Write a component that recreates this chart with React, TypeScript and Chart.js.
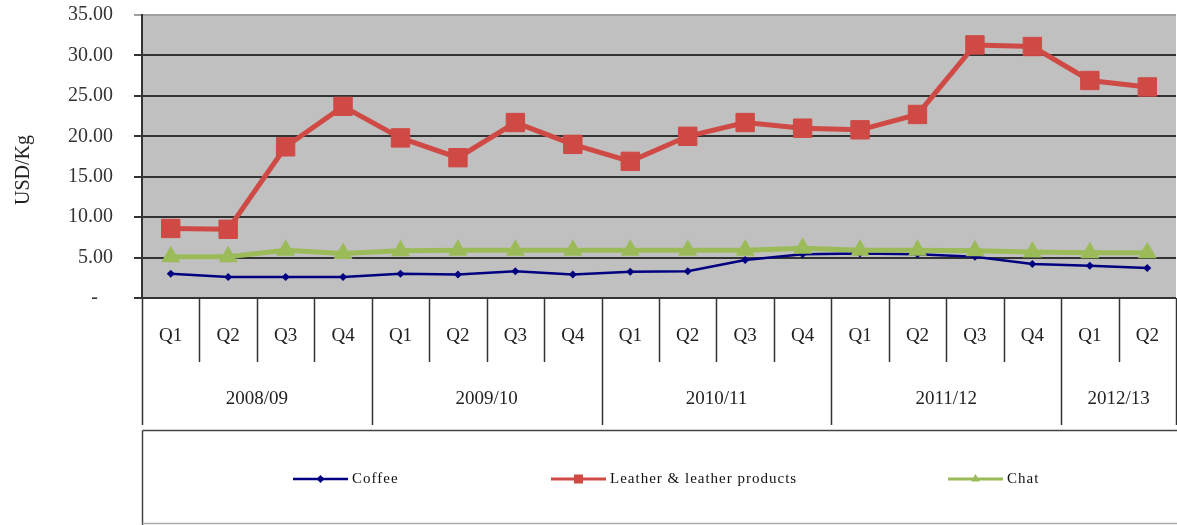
import React, { useEffect, useRef } from 'react';
import { Chart, registerables } from 'chart.js';

Chart.register(...registerables);

const quarterLabels = ['Q1', 'Q2', 'Q3', 'Q4', 'Q1', 'Q2', 'Q3', 'Q4', 'Q1', 'Q2', 'Q3', 'Q4', 'Q1', 'Q2', 'Q3', 'Q4', 'Q1', 'Q2'];
const fiscalYears = ['2008/09', '2009/10', '2010/11', '2011/12', '2012/13'];
const quartersPerYear = [4, 4, 4, 4, 2];
const coffee = [3.0, 2.6, 2.6, 2.6, 3.0, 2.9, 3.3, 2.9, 3.25, 3.3, 4.7, 5.4, 5.5, 5.4, 5.1, 4.2, 4.0, 3.7];
const leather = [8.6, 8.5, 18.7, 23.7, 19.8, 17.35, 21.7, 19.0, 16.9, 20.0, 21.7, 21.0, 20.8, 22.7, 31.3, 31.1, 26.9, 26.1];
const chat = [5.1, 5.1, 5.9, 5.5, 5.85, 5.9, 5.9, 5.9, 5.9, 5.9, 5.9, 6.15, 5.9, 5.9, 5.85, 5.7, 5.6, 5.6];
const yTickValues = [0, 5, 10, 15, 20, 25, 30, 35];
const seriesNames = ['Coffee', 'Leather & leather products', 'Chat'];
const yAxisTitle = 'USD/Kg';

const SERIF = '"Liberation Serif", "Times New Roman", serif';

const COLORS = ['#000080', '#cf4a45', '#9bbb59'];

function drawMarker(ctx: CanvasRenderingContext2D, kind: number, x: number, y: number) {
  ctx.beginPath();
  if (kind === 0) {
    const r = 4;
    ctx.moveTo(x, y - r);
    ctx.lineTo(x + r, y);
    ctx.lineTo(x, y + r);
    ctx.lineTo(x - r, y);
    ctx.closePath();
  } else if (kind === 1) {
    ctx.rect(x - 4.5, y - 4.5, 9, 9);
  } else {
    const r = 5;
    ctx.moveTo(x, y - r);
    ctx.lineTo(x + r * 0.866, y + r * 0.5);
    ctx.lineTo(x - r * 0.866, y + r * 0.5);
    ctx.closePath();
  }
  ctx.fill();
}

const tablePlugin = {
  id: 'tablePlugin',
  beforeDraw(chart: any) {
    const { ctx, chartArea: a } = chart;
    ctx.save();
    ctx.fillStyle = '#c0c0c0';
    ctx.fillRect(a.left, a.top, a.right - a.left, a.bottom - a.top);
    ctx.restore();
  },
  afterDraw(chart: any) {
    const { ctx, chartArea: a, scales } = chart;
    const xs = scales.x;
    const n = quarterLabels.length;
    const w = (a.right - a.left) / n;
    const qBottom = a.bottom + 64;
    const yBottom = a.bottom + 127;
    const bounds = [0];
    let acc = 0;
    quartersPerYear.forEach((c) => {
      acc += c;
      bounds.push(acc);
    });
    ctx.save();
    ctx.strokeStyle = '#333';
    ctx.lineWidth = 1.5;
    for (let i = 0; i <= n; i++) {
      const px = Math.round(a.left + i * w) + 0.5;
      const isYear = bounds.includes(i);
      ctx.beginPath();
      ctx.moveTo(px, a.bottom);
      ctx.lineTo(px, isYear ? yBottom : qBottom);
      ctx.stroke();
    }
    ctx.fillStyle = '#222';
    ctx.font = `19px ${SERIF}`;
    ctx.textAlign = 'center';
    ctx.textBaseline = 'middle';
    quarterLabels.forEach((q, i) => ctx.fillText(q, xs.getPixelForValue(i), a.bottom + 38));
    fiscalYears.forEach((fy, k) => {
      const c = (bounds[k] + bounds[k + 1]) / 2;
      ctx.fillText(fy, a.left + c * w, a.bottom + 101);
    });

    // y axis title
    ctx.save();
    ctx.translate(24, 170);
    ctx.rotate(-Math.PI / 2);
    ctx.font = `20px ${SERIF}`;
    ctx.fillText(yAxisTitle, 0, 0);
    ctx.restore();

    // legend box
    const top = 430.5;
    const bottom = 523.5;
    const left = Math.round(a.left) + 0.5;
    ctx.strokeStyle = '#444';
    ctx.lineWidth = 1.5;
    ctx.beginPath();
    ctx.moveTo(left, top);
    ctx.lineTo(chart.width, top);
    ctx.moveTo(left, top);
    ctx.lineTo(left, 525);
    ctx.stroke();
    ctx.strokeStyle = '#aaa';
    ctx.beginPath();
    ctx.moveTo(left, bottom);
    ctx.lineTo(chart.width, bottom);
    ctx.stroke();

    const starts = [293, 551, 948];
    const ly = 479;
    ctx.font = `15px ${SERIF}`;
    (ctx as any).letterSpacing = '1px';
    ctx.textAlign = 'left';
    seriesNames.forEach((name, i) => {
      const sx = starts[i];
      ctx.strokeStyle = COLORS[i];
      ctx.fillStyle = COLORS[i];
      ctx.lineWidth = i === 0 ? 2.5 : 3;
      ctx.beginPath();
      ctx.moveTo(sx, ly);
      ctx.lineTo(sx + 55, ly);
      ctx.stroke();
      drawMarker(ctx, i, sx + 27.5, ly);
      ctx.fillStyle = '#111';
      ctx.fillText(name, sx + 59, ly);
    });
    (ctx as any).letterSpacing = '0px';
    ctx.restore();
  },
};

export default function App() {
  const ref = useRef<HTMLCanvasElement | null>(null);
  useEffect(() => {
    if (!ref.current) return;
    const chart = new Chart(ref.current, {
      type: 'line',
      data: {
        labels: quarterLabels,
        datasets: [
          {
            label: seriesNames[0],
            data: coffee,
            borderColor: COLORS[0],
            backgroundColor: COLORS[0],
            borderWidth: 2.5,
            pointStyle: 'rectRot',
            pointRadius: 4,
            pointBorderWidth: 0,
            tension: 0,
            order: 3,
          },
          {
            label: seriesNames[1],
            data: leather,
            borderColor: COLORS[1],
            backgroundColor: COLORS[1],
            borderWidth: 5,
            pointStyle: 'rect',
            pointRadius: 13,
            pointBorderWidth: 1,
            tension: 0,
            order: 2,
          },
          {
            label: seriesNames[2],
            data: chat,
            borderColor: COLORS[2],
            backgroundColor: COLORS[2],
            borderWidth: 5,
            pointStyle: 'triangle',
            pointRadius: 11,
            pointBorderWidth: 0,
            tension: 0,
            order: 1,
          },
        ],
      },
      options: {
        responsive: false,
        animation: false,
        layout: { padding: { top: 15, right: 6, left: 0, bottom: 0 } },
        plugins: { legend: { display: false }, tooltip: { enabled: false }, title: { display: false } },
        scales: {
          x: {
            type: 'category',
            offset: true,
            grid: { display: false },
            border: { display: false },
            ticks: { display: false },
            afterFit: (s: any) => {
              s.height = 227;
              s.paddingLeft = 0;
              s.paddingRight = 0;
            },
          },
          y: {
            min: 0,
            max: 35,
            afterFit: (s: any) => {
              s.width = 142;
              s.paddingTop = 0;
              s.paddingBottom = 0;
            },
            afterBuildTicks: (s: any) => {
              s.ticks = yTickValues.map((v) => ({ value: v }));
            },
            ticks: {
              stepSize: 5,
              padding: 21,
              color: '#333',
              font: { family: SERIF, size: 20 },
              callback: (v: any) => (Number(v) === 0 ? '-   ' : Number(v).toFixed(2)),
            },
            grid: {
              color: (c: any) => (c.tick && c.tick.value === 35 ? '#a0a0a0' : '#333'),
              lineWidth: 2,
              tickLength: 8,
            },
            border: { display: true, color: '#333', width: 2 },
          },
        },
      },
      plugins: [tablePlugin],
    });
    return () => chart.destroy();
  }, []);
  return (
    <div style={{ position: 'absolute', left: 0, top: 0, width: 1177, height: 525, overflow: 'hidden', background: '#fff' }}>
      <canvas ref={ref} width={1190} height={525} style={{ display: 'block' }} />
    </div>
  );
}
